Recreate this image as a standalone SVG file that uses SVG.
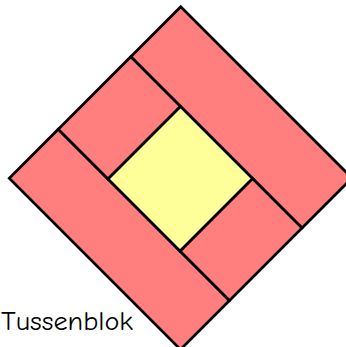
<svg xmlns="http://www.w3.org/2000/svg" width="346" height="347" viewBox="0 0 346 347">
<style>
.pink{fill:#FF7F7F;stroke:#000;stroke-width:2.7;stroke-linejoin:miter}
.yellow{fill:#FFFF99;stroke:#000;stroke-width:2.7;stroke-linejoin:miter}
.lbl{font-family:"Comic Neue","DejaVu Sans","Liberation Sans",sans-serif;font-size:26px;fill:#000}
</style>
<rect width="346" height="347" fill="#fff"/>
<g id="block">
<g id="strip-top-right"><polygon class="pink" points="180.75,6.75 352,178 302,228 130.75,56.75"/></g>
<g id="strip-bottom-left"><polygon class="pink" points="58.25,129.25 229.5,300.5 180.5,349.5 9.25,178.25"/></g>
<g id="piece-top-left"><polygon class="pink" points="130.75,56.75 180.5,106.5 108,179 58.25,129.25"/></g>
<g id="piece-bottom-right"><polygon class="pink" points="252.5,178.5 302,228 229.5,300.5 180,251"/></g>
<g id="center"><polygon class="yellow" points="180.5,106.5 252.5,178.5 180,251 108,179"/></g>
</g>
<g id="label"><text class="lbl" x="1" y="329.5" textLength="132" lengthAdjust="spacingAndGlyphs">Tussenblok</text></g>
</svg>
